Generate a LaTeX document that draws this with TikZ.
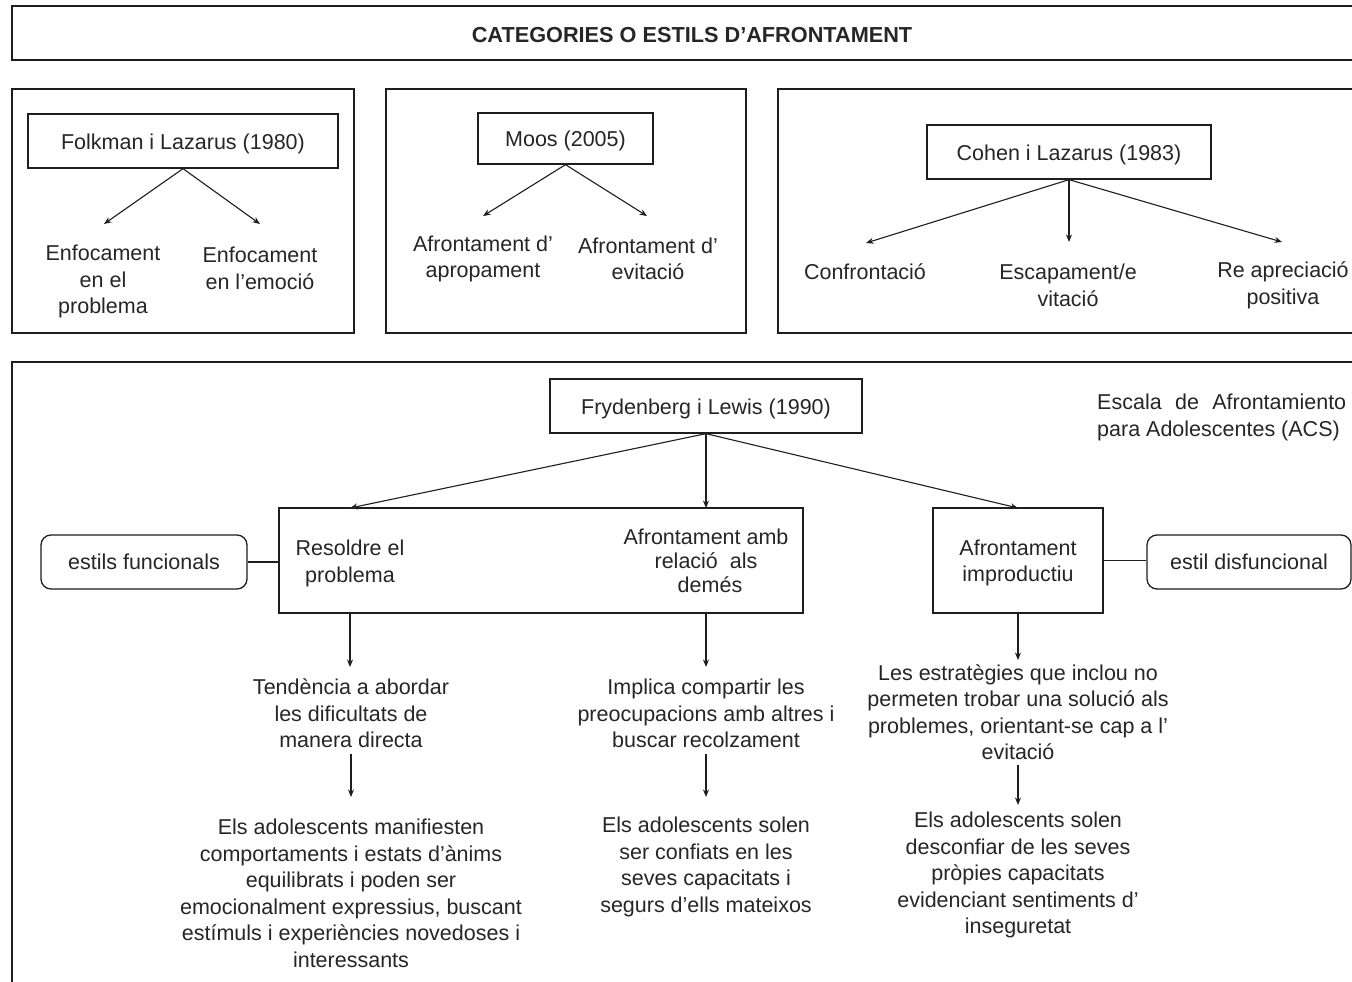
\documentclass[tikz,border=0pt]{standalone}
\usepackage{fontspec}
\setmainfont{Liberation Sans}
\usetikzlibrary{arrows.meta}
\definecolor{ink}{HTML}{1E1E1E}
\definecolor{txtc}{HTML}{262626}
\newcommand{\lowr}[1]{\raisebox{-2.5pt}[\height][\depth]{#1}}
\begin{document}
\begin{tikzpicture}[x=1pt,y=-1pt,
  frame/.style={draw=ink,line width=2.6pt},
  inbox/.style={draw=ink,line width=1.3pt,inner sep=0pt,align=center,text=txtc},
  rbox/.style={inbox,rounded corners=10pt},
  lbl/.style={align=center,inner sep=0pt,text=txtc,yshift=-2pt},
  arr/.style={draw=ink,line width=1.1pt,-{Stealth[length=7.5pt,width=6pt]}},
  lnk/.style={draw=ink,line width=1.1pt},
  every node/.style={font=\fontsize{21.5}{26.5}\selectfont}]
\useasboundingbox (0,0) rectangle (1352,982);
\fill[white] (0,0) rectangle (1352,982);
\clip (0,0) rectangle (1352,982);
% outer frames
\draw[frame] (12,6) rectangle (1372,60);
\draw[frame] (12,89) rectangle (354,333);
\draw[frame] (386,89) rectangle (746,333);
\draw[frame] (778,89) rectangle (1372,333);
\draw[frame] (12,362) rectangle (1372,1000);
\node[lbl,font=\fontsize{21.7}{26.5}\selectfont\bfseries] (title) at (692,33) {CATEGORIES O ESTILS D’AFRONTAMENT};
% Folkman
\node[inbox,minimum width=310,minimum height=54] (folk) at (183,141) {\lowr{Folkman i Lazarus (1980)}};
\node[lbl] (f1) at (103,279.5) {Enfocament\\en el\\problema};
\node[lbl] (f2) at (260,266.5) {Enfocament\\en l’emoció};
\coordinate (f1a) at (104,224);
\coordinate (f2a) at (260,224);
\draw[arr] (folk.south) -- (f1a);
\draw[arr] (folk.south) -- (f2a);
% Moos
\node[inbox,minimum width=175,minimum height=51] (moos) at (565.5,138.5) {\lowr{Moos (2005)}};
\node[lbl] (m1) at (483,257) {Afrontament d’\\apropament};
\node[lbl] (m2) at (648,257) {Afrontament d’\\evitació};
\coordinate (m1a) at (483,216);
\coordinate (m2a) at (647,216);
\draw[arr] (moos.south) -- (m1a);
\draw[arr] (moos.south) -- (m2a);
% Cohen
\node[inbox,minimum width=284,minimum height=54] (cohen) at (1069,152) {\lowr{Cohen i Lazarus (1983)}};
\node[lbl] (c1) at (865,270) {Confrontació};
\node[lbl] (c2) at (1068,283.5) {Escapament/e\\vitació};
\node[lbl] (c3) at (1283,283.5) {Re apreciació\\positiva};
\coordinate (c1a) at (866,243);
\coordinate (c2a) at (1069,242);
\coordinate (c3a) at (1282,242);
\draw[arr] (cohen.south) -- (c1a);
\draw[arr] (cohen.south) -- (c2a);
\draw[arr] (cohen.south) -- (c3a);
% Frydenberg
\node[inbox,minimum width=312,minimum height=54] (fryd) at (706,406) {\lowr{Frydenberg i Lewis (1990)}};
\node[lbl,anchor=west,align=left] (acs) at (1097,415.5) {\makebox[249pt][s]{Escala de Afrontamiento}\\para Adolescentes (ACS)};
\node[inbox,minimum width=524,minimum height=105] (mid) at (541,560.5) {};
\node[lbl] (res) at (350,561.5) {Resoldre el\\problema};
\node[lbl,font=\fontsize{21.5}{24}\selectfont] (rel) at (706,559) {Afrontament amb\\relació\ \ als\hspace*{15pt}\\\hspace*{8pt}demés};
\node[inbox,minimum width=170,minimum height=105] (imp) at (1018,560.5) {\lowr{\begin{tabular}{@{}c@{}}Afrontament\\improductiu\end{tabular}}};
\node[rbox,minimum width=206,minimum height=54] (ef) at (144,562) {estils funcionals};
\node[rbox,minimum width=204,minimum height=54] (ed) at (1249,562) {estil disfuncional};
\draw[lnk] (ef.east) -- (ef.east -| mid.west);
\draw[lnk] (imp.east) -- (imp.east -| ed.west);
\coordinate (ra) at (350,508);
\coordinate (rb) at (706,508);
\coordinate (rc) at (1018,508);
\draw[arr] (fryd.south) -- (ra);
\draw[arr] (fryd.south) -- (rb);
\draw[arr] (fryd.south) -- (rc);
% lower columns
\node[lbl] (t1) at (351,711.5) {Tendència a abordar\\les dificultats de\\manera directa};
\node[lbl] (u1) at (351,891.5) {Els adolescents manifiesten\\comportaments i estats d’ànims\\equilibrats i poden ser\\emocionalment expressius, buscant\\estímuls i experiències novedoses i\\interessants};
\node[lbl] (t2) at (706,711.5) {Implica compartir les\\preocupacions amb altres i\\buscar recolzament};
\node[lbl] (u2) at (706,865) {Els adolescents solen\\ser confiats en les\\seves capacitats i\\segurs d’ells mateixos};
\node[lbl] (t3) at (1018,710) {Les estratègies que inclou no\\permeten trobar una solució als\\problemes, orientant-se cap a l’\\evitació};
\node[lbl] (u3) at (1018,873) {Els adolescents solen\\desconfiar de les seves\\pròpies capacitats\\evidenciant sentiments d’\\inseguretat};
\coordinate (p1) at (350,667);
\coordinate (p2) at (706,667);
\coordinate (p3) at (1018,660);
\draw[arr] (mid.south -| p1) -- (p1);
\draw[arr] (mid.south -| p2) -- (p2);
\draw[arr] (imp.south) -- (p3);
\coordinate (q1s) at (351,754);
\coordinate (q1) at (351,797);
\coordinate (q2s) at (706,754);
\coordinate (q2) at (706,797);
\coordinate (q3s) at (1018,765);
\coordinate (q3) at (1018,805);
\draw[arr] (q1s) -- (q1);
\draw[arr] (q2s) -- (q2);
\draw[arr] (q3s) -- (q3);
\end{tikzpicture}
\end{document}
